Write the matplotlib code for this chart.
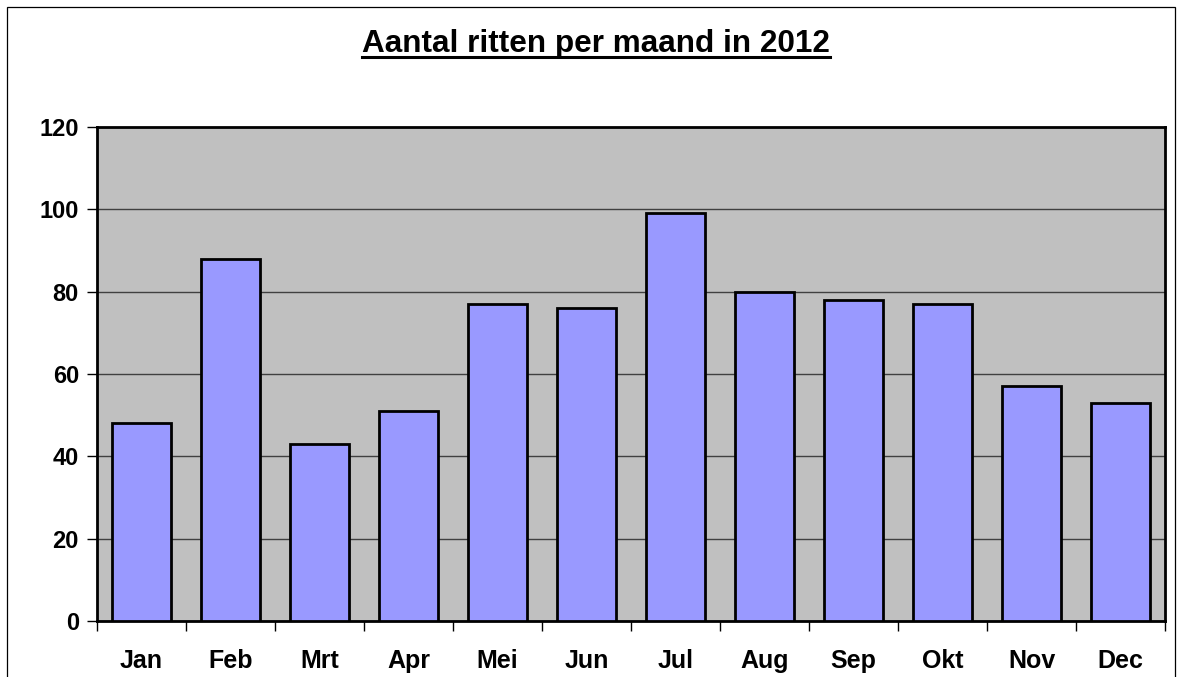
import matplotlib
matplotlib.use("Agg")
import matplotlib.pyplot as plt
from matplotlib.patches import Rectangle
from matplotlib.lines import Line2D

months = ["Jan", "Feb", "Mrt", "Apr", "Mei", "Jun", "Jul", "Aug", "Sep", "Okt", "Nov", "Dec"]
ritten = [48, 88, 43, 51, 77, 76, 99, 80, 78, 77, 57, 53]
yticks = [0, 20, 40, 60, 80, 100, 120]
title = "Aantal ritten per maand in 2012"

plt.rcParams['font.family'] = ['Liberation Sans', 'DejaVu Sans']
plt.rcParams['font.weight'] = 'bold'

W, H = 1177, 677
fig = plt.figure(figsize=(W / 100, H / 100), dpi=100)
ax = fig.add_axes([97 / W, 1 - 621 / H, (1165 - 97) / W, (621 - 127) / H])

# outer frame of the chart area
fig.patches.append(Rectangle((7 / W, -0.1), (1175 - 7) / W, 1.1 - 7 / H,
                             transform=fig.transFigure, fill=False,
                             edgecolor='black', linewidth=0.9))

ax.set_facecolor('#C0C0C0')
x = list(range(len(months)))
ax.bar(x, ritten, width=0.66, color='#9999FF', edgecolor='black', linewidth=2, zorder=3)

ax.set_xlim(-0.5, len(months) - 0.5)
ax.set_ylim(0, 120)
ax.set_yticks(yticks)
ax.set_yticklabels([str(v) for v in yticks], fontsize=17, fontweight='bold')
ax.yaxis.grid(True, color='#404040', linewidth=1, zorder=1)
ax.set_axisbelow(True)

ax.set_xticks(x)
ax.set_xticklabels(months, fontsize=18, fontweight='bold')
ax.tick_params(axis='x', length=0, pad=20)
ax.set_xticks([i - 0.5 for i in range(len(months) + 1)], minor=True)
ax.tick_params(axis='x', which='minor', length=7, width=1, direction='out')
ax.tick_params(axis='y', length=7, width=1, direction='out', pad=6)

for s in ax.spines.values():
    s.set_linewidth(2)
    s.set_color('black')

t = fig.text(596 / W, 1 - 52 / H, title, ha='center', va='baseline', fontsize=22.7, fontweight='bold')
fig.canvas.draw()
bb = t.get_window_extent().transformed(fig.transFigure.inverted())
uy = 1 - 57 / H
fig.lines.append(Line2D([bb.x0, bb.x1], [uy, uy],
                        transform=fig.transFigure, color='black', linewidth=2.2))

fig.savefig("out.png", dpi=100)
